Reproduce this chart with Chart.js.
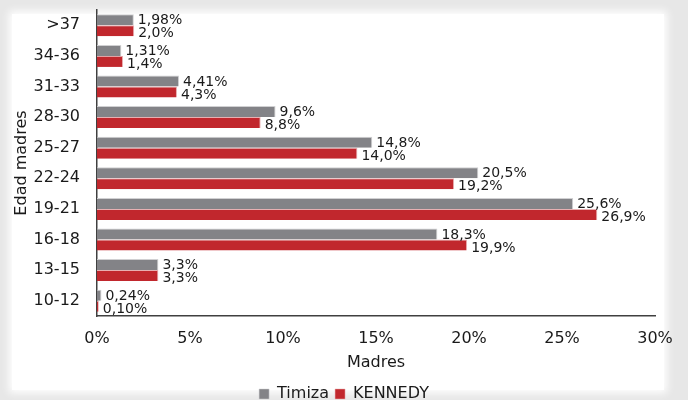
<!DOCTYPE html>
<html>
<head>
<meta charset="utf-8">
<script src="https://cdn.jsdelivr.net/npm/chart.js@4/dist/chart.umd.min.js"></script>
<style>
  html, body { margin: 0; padding: 0; background: #e7e7e7; overflow: hidden; }
  #panel {
    position: absolute; left: 12px; top: 14px; width: 652px; height: 376px;
    background: #fff; box-shadow: 0 0 8px 3px #fff;
  }
  #wrap { position: absolute; left: 0; top: 0; width: 688px; height: 412px; }
</style>
</head>
<body>
<div id="panel"></div>
<div id="wrap"><canvas id="chart"></canvas></div>
<script>
// Age groups, top to bottom as drawn
const AGE_GROUPS = ['>37', '34-36', '31-33', '28-30', '25-27', '22-24', '19-21', '16-18', '13-15', '10-12'];

// Share of mothers (%) per age group
const TIMIZA = [1.98, 1.31, 4.41, 9.6, 14.8, 20.5, 25.6, 18.3, 3.3, 0.24];
const KENNEDY = [2.0, 1.4, 4.3, 8.8, 14.0, 19.2, 26.9, 19.9, 3.3, 0.10];

// Labels as printed on the bars
const TIMIZA_LABELS = ['1,98%', '1,31%', '4,41%', '9,6%', '14,8%', '20,5%', '25,6%', '18,3%', '3,3%', '0,24%'];
const KENNEDY_LABELS = ['2,0%', '1,4%', '4,3%', '8,8%', '14,0%', '19,2%', '26,9%', '19,9%', '3,3%', '0,10%'];

// X axis ticks
const X_TICKS = [0, 5, 10, 15, 20, 25, 30];

const FONT = 'DejaVu Sans, Verdana, sans-serif';

// Draw value labels at the end of each bar
const barLabels = {
  id: 'barLabels',
  afterDatasetsDraw(chart) {
    const ctx = chart.ctx;
    ctx.save();
    ctx.font = '14px ' + FONT;
    ctx.fillStyle = '#1a1a1a';
    ctx.textAlign = 'left';
    ctx.textBaseline = 'middle';
    chart.data.datasets.forEach((ds, i) => {
      const meta = chart.getDatasetMeta(i);
      const shift = i === 0 ? 1 : 3;
      meta.data.forEach((bar, j) => {
        ctx.fillText(ds.valueLabels[j], bar.x + 4, bar.y + shift);
      });
    });
    ctx.restore();
  }
};

new Chart(document.getElementById('chart'), {
  type: 'bar',
  data: {
    labels: AGE_GROUPS,
    datasets: [
      {
        label: 'Timiza',
        data: TIMIZA,
        valueLabels: TIMIZA_LABELS,
        backgroundColor: '#838387',
        borderColor: '#d0d0d2',
        borderWidth: { top: 1, bottom: 0, left: 0, right: 1 },
        borderSkipped: 'left'
      },
      {
        label: 'KENNEDY',
        data: KENNEDY,
        valueLabels: KENNEDY_LABELS,
        backgroundColor: '#c1272d',
        borderColor: '#e8b0b2',
        borderWidth: { top: 1, bottom: 0, left: 0, right: 1 },
        borderSkipped: 'left'
      }
    ]
  },
  options: {
    indexAxis: 'y',
    responsive: true,
    maintainAspectRatio: false,
    animation: false,
    devicePixelRatio: 1,
    categoryPercentage: 0.72,
    barPercentage: 1,
    layout: { padding: { top: 10, left: 33, right: 33, bottom: 0 } },
    scales: {
      x: {
        min: 0,
        max: 30,
        afterBuildTicks(scale) {
          scale.ticks = X_TICKS.map(v => ({ value: v }));
        },
        afterFit(scale) { scale.height = 64; },
        grid: { display: false, drawTicks: false },
        border: { display: true, color: '#404040', width: 1.5 },
        ticks: {
          padding: 13,
          color: '#1a1a1a',
          font: { family: FONT, size: 16 },
          callback: v => v + '%'
        },
        title: {
          display: true,
          text: 'Madres',
          color: '#1a1a1a',
          font: { family: FONT, size: 16 },
          padding: { top: 0, bottom: 8 }
        }
      },
      y: {
        afterFit(scale) {
          scale.width = 64;
          scale.paddingTop = 0;
          scale.paddingBottom = 0;
        },
        grid: { display: false, drawTicks: false },
        border: { display: true, color: '#404040', width: 1.5 },
        ticks: {
          padding: 17,
          color: '#1a1a1a',
          font: { family: FONT, size: 16 }
        },
        title: {
          display: true,
          text: 'Edad madres',
          color: '#1a1a1a',
          font: { family: FONT, size: 16 },
          padding: { top: -21, bottom: 0 }
        }
      }
    },
    plugins: {
      legend: {
        position: 'bottom',
        labels: {
          color: '#1a1a1a',
          font: { family: FONT, size: 16 },
          boxWidth: 10,
          boxHeight: 10,
          padding: 6
        }
      },
      tooltip: { enabled: false }
    }
  },
  plugins: [barLabels]
});
</script>
</body>
</html>
